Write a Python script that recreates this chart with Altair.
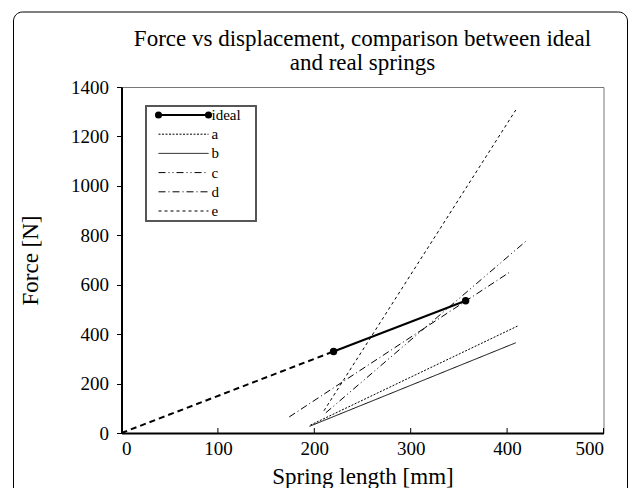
import altair as alt
import pandas as pd

# ---- data ----
ideal_x = [220, 357]
ideal_y = [330, 535]
ext_x = [0, 220]
ext_y = [0, 330]

series = ["a", "b", "c", "d", "e"]
series_x = {
    "a": [196, 411],
    "b": [195, 409],
    "c": [212, 421],
    "d": [174, 402],
    "e": [210, 409],
}
series_y = {
    "a": [32, 433],
    "b": [27, 365],
    "c": [82, 781],
    "d": [65, 649],
    "e": [90, 1307],
}
legend_rows = ["ideal", "a", "b", "c", "d", "e"]
x_ticks = [0, 100, 200, 300, 400, 500]
y_ticks = [0, 200, 400, 600, 800, 1000, 1200, 1400]

W, H = 482, 346
FONT = "Liberation Serif"

ideal_df = pd.DataFrame({"x": ideal_x, "y": ideal_y})
ext_df = pd.DataFrame({"x": ext_x, "y": ext_y})
rows = []
for s in series:
    for i, (xv, yv) in enumerate(zip(series_x[s], series_y[s])):
        rows.append({"series": s, "x": xv, "y": yv, "o": i})
lines_df = pd.DataFrame(rows)
legend_df = pd.DataFrame({"row": legend_rows})
tick_df = pd.DataFrame({"t": x_ticks})

dash_scale = alt.Scale(
    domain=series,
    range=[[2, 1.5], [1, 0], [7, 3, 1, 3, 1, 3], [7, 3, 1, 3], [3, 3]],
)

xs = alt.Scale(domain=[0, 500], nice=False)
ys = alt.Scale(domain=[0, 1400], nice=False)
x_axis = alt.Axis(values=x_ticks, title="Spring length [mm]", ticks=False, tickSize=0,
                  labelPadding=6, titlePadding=7, format="d")
y_axis = alt.Axis(values=y_ticks, title="Force [N]", tickSize=5, labelPadding=8,
                  titlePadding=28, format="d")

ext = alt.Chart(ext_df).mark_line(color="black", strokeWidth=2, strokeDash=[6, 4]).encode(
    x=alt.X("x:Q", scale=xs, axis=x_axis),
    y=alt.Y("y:Q", scale=ys, axis=y_axis),
)
ideal_line = alt.Chart(ideal_df).mark_line(color="black", strokeWidth=2).encode(
    x=alt.X("x:Q", scale=xs), y=alt.Y("y:Q", scale=ys)
)
ideal_pts = alt.Chart(ideal_df).mark_point(filled=True, color="black", size=55, opacity=1).encode(
    x=alt.X("x:Q", scale=xs), y=alt.Y("y:Q", scale=ys)
)
others = alt.Chart(lines_df).mark_line(color="black", strokeWidth=1).encode(
    x=alt.X("x:Q", scale=xs),
    y=alt.Y("y:Q", scale=ys),
    detail="series:N",
    order="o:Q",
    strokeDash=alt.StrokeDash("series:N", scale=dash_scale, legend=None),
)
xticks = alt.Chart(tick_df).mark_rule(color="black", strokeWidth=1).encode(
    x=alt.X("t:Q", scale=xs), y=alt.value(H), y2=alt.value(H - 5)
)
main = alt.layer(ext, ideal_line, ideal_pts, others, xticks)

# ---- manual legend ----
row_y = alt.Y("row:N", scale=alt.Scale(type="point", domain=legend_rows, range=[28, 124], padding=0), axis=None)
leg_box = alt.Chart(legend_df).mark_rect(filled=False, stroke="#555", strokeWidth=1.2).encode(
    x=alt.value(24.5), x2=alt.value(134.5), y=alt.value(19), y2=alt.value(134)
)
leg_ideal = alt.Chart(legend_df).transform_filter(alt.datum.row == "ideal").mark_rule(
    color="black", strokeWidth=2
).encode(x=alt.value(37), x2=alt.value(87), y=row_y)
leg_pt1 = alt.Chart(legend_df).transform_filter(alt.datum.row == "ideal").mark_point(
    filled=True, color="black", size=50, opacity=1
).encode(x=alt.value(37), y=row_y)
leg_pt2 = alt.Chart(legend_df).transform_filter(alt.datum.row == "ideal").mark_point(
    filled=True, color="black", size=50, opacity=1
).encode(x=alt.value(87), y=row_y)
leg_lines = alt.Chart(legend_df).transform_filter(alt.datum.row != "ideal").mark_rule(
    color="black", strokeWidth=1
).encode(
    x=alt.value(37), x2=alt.value(87), y=row_y,
    strokeDash=alt.StrokeDash("row:N", scale=dash_scale, legend=None),
)
leg_text = alt.Chart(legend_df).mark_text(
    align="left", baseline="middle", font=FONT, fontSize=15, color="black"
).encode(x=alt.value(90), y=row_y, text="row:N")

# outer rounded frame
frame = alt.Chart(legend_df.head(1)).mark_rect(
    filled=False, stroke="black", strokeWidth=1, cornerRadius=9
).encode(x=alt.value(-108), x2=alt.value(506), y=alt.value(-75), y2=alt.value(430))

legend = alt.layer(frame, leg_box, leg_ideal, leg_pt1, leg_pt2, leg_lines, leg_text)

chart = (
    alt.layer(main, legend)
    .resolve_scale(y="independent")
    .properties(
        width=W,
        height=H,
        title=alt.TitleParams(
            ["Force vs displacement, comparison between ideal", "and real springs"],
            font=FONT, fontSize=23, fontWeight="normal", color="black",
            anchor="middle", frame="group", offset=14, dy=77, lineHeight=24,
        ),
        padding={"left": 113.5, "top": 79, "right": 25, "bottom": 55},
        autosize=alt.AutoSizeParams(type="none"),
        background="white",
    )
    .configure_view(stroke="#777", strokeWidth=1)
    .configure_axis(
        grid=False, domainColor="black", domainWidth=2, tickColor="black", tickWidth=1,
        labelFont=FONT, labelFontSize=19, labelColor="black",
        titleFont=FONT, titleFontSize=23, titleFontWeight="normal", titleColor="black",
    )
)

chart.save("out.html", embed_options={"renderer": "svg", "actions": False})
